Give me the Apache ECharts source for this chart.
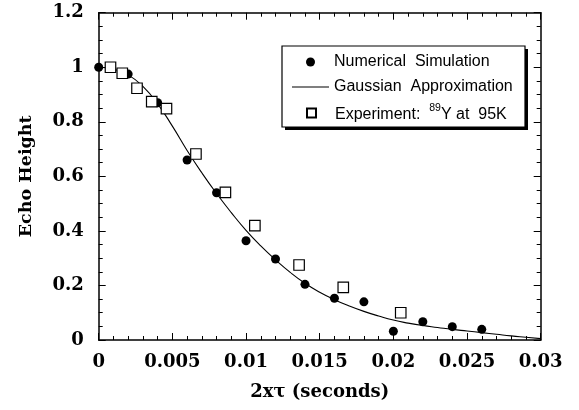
<!DOCTYPE html>
<html>
<head>
<meta charset="utf-8">
<script src="https://cdn.jsdelivr.net/npm/echarts@6/dist/echarts.min.js"></script>
<style>html,body{margin:0;padding:0;background:#fff;}#c{width:579px;height:410px;}</style>
</head>
<body>
<div id="c"></div>
<script>
// ---- data ----
const simX = [0, 0.002, 0.004, 0.006, 0.008, 0.010, 0.012, 0.014, 0.016, 0.018, 0.020, 0.022, 0.024, 0.026];
const simY = [1.0, 0.975, 0.87, 0.66, 0.54, 0.364, 0.297, 0.204, 0.153, 0.14, 0.032, 0.067, 0.049, 0.039];
const expX = [0.0008, 0.0016, 0.0026, 0.0036, 0.0046, 0.0066, 0.0086, 0.0106, 0.0136, 0.0166, 0.0205];
const expY = [1.0, 0.978, 0.923, 0.874, 0.848, 0.682, 0.541, 0.419, 0.275, 0.193, 0.1];
const gaussX = [0, 0.001, 0.002, 0.003, 0.004, 0.005, 0.006, 0.007, 0.008, 0.009, 0.010,
  0.011, 0.012, 0.013, 0.014, 0.015, 0.016, 0.017, 0.018, 0.019, 0.020,
  0.021, 0.022, 0.023, 0.024, 0.025, 0.026, 0.027, 0.028, 0.029, 0.030];
const gaussY = [1.0, 0.993, 0.972, 0.930, 0.866, 0.784, 0.695, 0.613, 0.537, 0.467, 0.402,
  0.345, 0.294, 0.248, 0.208, 0.175, 0.148, 0.125, 0.105, 0.088, 0.073,
  0.062, 0.053, 0.046, 0.039, 0.033, 0.027, 0.021, 0.015, 0.010, 0.005];
const xTickLabels = ['0', '0.005', '0.01', '0.015', '0.02', '0.025', '0.03'];
const yTickLabels = ['0', '0.2', '0.4', '0.6', '0.8', '1', '1.2'];
const seriesNames = ['Numerical Simulation', 'Gaussian Approximation', 'Experiment'];

const zip = (xs, ys) => xs.map((x, i) => [x, ys[i]]);
const SERIF = 'DejaVu Serif';
const tickFont = { fontFamily: SERIF, fontWeight: 'bold', fontSize: 18, color: '#000' };
const nameFont = { fontFamily: SERIF, fontWeight: 'bold', fontSize: 18, color: '#000' };

function mkX(pos, show) {
  return {
    type: 'value', position: pos, min: 0, max: 0.03, interval: 0.005,
    axisLine: { show: true, onZero: false, lineStyle: { color: '#000', width: 1.5 } },
    axisTick: { show: true, inside: true, length: 7, lineStyle: { color: '#000', width: 1 } },
    minorTick: { show: true, splitNumber: 5, length: 4, lineStyle: { color: '#000', width: 1 } },
    splitLine: { show: false }, minorSplitLine: { show: false },
    axisLabel: show ? Object.assign({ margin: 13, formatter: v => xTickLabels[Math.round(v / 0.005)] }, tickFont) : { show: false },
    name: show ? '2xτ (seconds)' : '', nameLocation: 'middle', nameGap: 43,
    nameTextStyle: nameFont
  };
}
function mkY(pos, show) {
  return {
    type: 'value', position: pos, min: 0, max: 1.2, interval: 0.2,
    axisLine: { show: true, onZero: false, lineStyle: { color: '#000', width: 1.5 } },
    axisTick: { show: true, inside: true, length: 7, lineStyle: { color: '#000', width: 1 } },
    minorTick: { show: true, splitNumber: 4, length: 4, lineStyle: { color: '#000', width: 1 } },
    splitLine: { show: false }, minorSplitLine: { show: false },
    axisLabel: show ? Object.assign({ margin: 15, formatter: v => yTickLabels[Math.round(v / 0.2)] }, tickFont) : { show: false },
    name: show ? 'Echo Height' : '', nameLocation: 'middle', nameGap: 63,
    nameTextStyle: { fontFamily: SERIF, fontWeight: 'bold', fontSize: 17.5, color: '#000' }
  };
}

const legendText = {
  color: '#000', fontFamily: 'Liberation Sans', fontSize: 16, lineHeight: 18,
  rich: {
    n: { fontFamily: 'Liberation Sans', fontSize: 16, color: '#000', lineHeight: 20, verticalAlign: 'bottom' },
    s: { fontFamily: 'Liberation Sans', fontSize: 10.5, color: '#000', lineHeight: 8, verticalAlign: 'top' }
  }
};
const legendFormatter = function (name) {
  if (name === 'Experiment') return '{n|Experiment:  }{s|89}{n|Y at  95K}';
  return name.replace(' ', '  ');
};
function mkLegend(item, left, top) {
  return {
    orient: 'vertical', left: left, top: top, padding: 0, z: 10,
    itemWidth: 37, itemHeight: 9, selectedMode: false,
    data: [item], formatter: legendFormatter, textStyle: legendText
  };
}

const chart = echarts.init(document.getElementById('c'), null, { renderer: 'canvas' });
chart.setOption({
  animation: false,
  backgroundColor: '#fff',
  grid: { left: 98.7, right: 38.3, top: 12.7, bottom: 70, containLabel: false },
  xAxis: [mkX('bottom', true), mkX('top', false)],
  yAxis: [mkY('left', true), mkY('right', false)],
  graphic: [
    { type: 'rect', z: 5, shape: { x: 285, y: 49, width: 243, height: 81 }, style: { fill: '#000' } },
    { type: 'rect', z: 6, shape: { x: 282, y: 46, width: 243, height: 81 }, style: { fill: '#fff', stroke: '#000', lineWidth: 1.2 } }
  ],
  legend: [
    mkLegend({ name: seriesNames[0], icon: 'circle' }, 306, 53),
    mkLegend({ name: seriesNames[1], icon: 'path://M0,0L37,0L37,1.1L0,1.1Z' }, 292, 78),
    mkLegend({ name: seriesNames[2], icon: 'path://M0,0L10,0L10,10L0,10Z' }, 306, 103)
  ],
  series: [
    {
      name: seriesNames[1], type: 'line', data: zip(gaussX, gaussY),
      symbol: 'none', smooth: 0.5,
      lineStyle: { color: '#000', width: 1.1 }, itemStyle: { color: '#000' }, z: 2
    },
    {
      name: seriesNames[0], type: 'scatter', data: zip(simX, simY),
      symbol: 'circle', symbolSize: 9, itemStyle: { color: '#000', opacity: 1 }, z: 3
    },
    {
      name: seriesNames[2], type: 'scatter', data: zip(expX, expY),
      symbol: 'rect', symbolSize: 10.5,
      itemStyle: { color: '#fff', borderColor: '#000', borderWidth: 1.2, opacity: 1 }, z: 4
    }
  ]
});
</script>
</body>
</html>
